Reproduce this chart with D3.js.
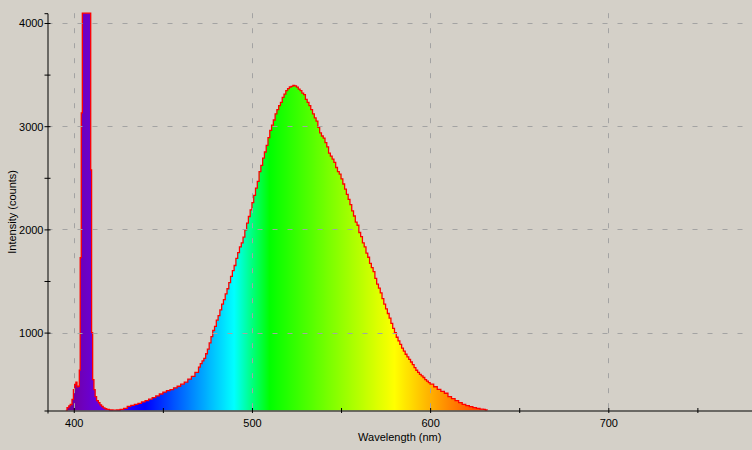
<!DOCTYPE html>
<html>
<head>
<meta charset="utf-8">
<script src="https://cdn.jsdelivr.net/npm/d3@7"></script>
<style>
  html, body { margin: 0; padding: 0; background: #d4d0c8; }
  svg { display: block; }
  text { font-family: "Liberation Sans", Arial, sans-serif; font-size: 11px; fill: #000; }
</style>
</head>
<body>
<svg id="chart" width="752" height="450"></svg>
<script>
// ---- data ----
const wavelengths = [
  395.5, 396.2, 397.2, 398.0, 399.0, 399.8, 400.5, 401.2, 401.8, 402.4, 403.1, 403.6, 404.2, 404.8,
  409.5, 410.0, 410.6, 411.3, 412.0, 412.8, 413.8, 414.7, 415.6, 416.5, 417.5, 418.5,
  420, 422, 424, 426, 428, 430, 432, 434, 436, 438, 440, 442, 444, 446, 448, 450,
  452, 454, 456, 458, 460, 462, 464, 466, 468, 470,
  471, 472, 473, 474, 475, 476, 477, 478, 479, 480,
  481, 482, 483, 484, 485, 486, 487, 488, 489, 490,
  491, 492, 493, 494, 495, 496, 497, 498, 499, 500,
  501, 502, 503, 504, 505, 506, 507, 508, 509, 510,
  511, 512, 513, 514, 515, 516, 517, 518, 519, 520,
  521, 522, 523, 524, 525, 526, 527, 528, 529, 530,
  531, 532, 533, 534, 535, 536, 537, 538, 539, 540,
  541, 542, 543, 544, 545, 546, 547, 548, 549, 550,
  551, 552, 553, 554, 555, 556, 557, 558, 559, 560,
  561, 562, 563, 564, 565, 566, 567, 568, 569, 570,
  571, 572, 573, 574, 575, 576, 577, 578, 579, 580,
  581, 582, 583, 584, 585, 586, 587, 588, 589, 590,
  591, 592, 593, 594, 595, 596, 597, 598, 599, 600,
  602, 604, 606, 608, 610, 612, 614, 616, 618, 620,
  622, 624, 626, 628, 630, 631, 632
];
const counts = [
  245, 272, 290, 303, 352, 448, 497, 520, 474, 480, 636, 1726, 3129, 4095,
  2577, 1000, 545, 448, 380, 340, 320, 300, 285, 270, 262, 255,
  250, 248, 250, 255, 265, 285, 295, 305, 315, 328, 340, 355, 370, 386, 405, 424,
  437, 448, 465, 480, 500, 520, 550, 575, 615, 665,
  700, 725, 750, 795, 840, 900, 960, 1020, 1060, 1120,
  1165, 1220, 1275, 1320, 1375, 1425, 1485, 1545, 1600, 1650,
  1720, 1775, 1830, 1870, 1925, 1995, 2060, 2125, 2190, 2260,
  2330, 2400, 2465, 2560, 2620, 2690, 2750, 2815, 2890, 2960,
  3010, 3060, 3120, 3160, 3200, 3230, 3280, 3310, 3345, 3365,
  3380, 3385, 3395, 3390, 3378, 3360, 3345, 3320, 3305, 3260,
  3230, 3200, 3160, 3120, 3080, 3050, 2990, 2935, 2905, 2885,
  2840, 2800, 2740, 2710, 2680, 2650, 2600, 2560, 2535, 2490,
  2440, 2390, 2340, 2290, 2240, 2180, 2130, 2070, 2040, 1970,
  1930, 1870, 1830, 1770, 1730, 1670, 1630, 1590, 1525, 1470,
  1430, 1385, 1330, 1275, 1230, 1185, 1140, 1090, 1040, 1000,
  955, 920, 885, 850, 820, 790, 765, 740, 715, 690,
  660, 635, 615, 595, 580, 565, 545, 530, 515, 500,
  475, 450, 430, 412, 380, 360, 340, 322, 305, 292,
  282, 272, 265, 258, 255, 250, 245
];
const xMajorTicks = [400, 500, 600, 700];
const xMinorTicks = [450, 550, 650, 750];
const yMajorTicks = [1000, 2000, 3000, 4000];
const yMinorTicks = [1500, 2500, 3500];
const xTitle = "Wavelength (nm)";
const yTitle = "Intensity (counts)";

// ---- layout ----
const W = 752, H = 450;
const pLeft = 47.5, pRight = 752, pTop = 13.2, pBottom = 410.5;

const x = d3.scaleLinear().domain([385.25, 780.65]).range([pLeft, pRight]);
const y = d3.scaleLinear().domain([245, 4095]).range([pBottom, pTop]);

const svg = d3.select("#chart");
svg.append("rect").attr("width", W).attr("height", H).attr("fill", "#d4d0c8");

// wavelength -> colour (Bruton-style)
function wlColor(l) {
  let r, g, b;
  if (l < 440) { r = (440 - l) / 60; g = 0; b = 1; }
  else if (l < 490) { r = 0; g = (l - 440) / 50; b = 1; }
  else if (l < 510) { r = 0; g = 1; b = (510 - l) / 20; }
  else if (l < 580) { r = (l - 510) / 70; g = 1; b = 0; }
  else if (l < 645) { r = 1; g = (645 - l) / 65; b = 0; }
  else { r = 1; g = 0; b = 0; }
  let f = 1;
  if (l < 420) f = 0.3 + 0.7 * (l - 380) / 40;
  else if (l > 700) f = 0.3 + 0.7 * (780 - l) / 80;
  const c = v => Math.round(255 * Math.max(0, Math.min(1, v * f)));
  return `rgb(${c(r)},${c(g)},${c(b)})`;
}

const defs = svg.append("defs");
const grad = defs.append("linearGradient")
  .attr("id", "spec").attr("gradientUnits", "userSpaceOnUse")
  .attr("x1", x(380)).attr("x2", x(780)).attr("y1", 0).attr("y2", 0);
for (let l = 380; l <= 780; l += 2) {
  grad.append("stop").attr("offset", (l - 380) / 400).attr("stop-color", wlColor(l));
}
defs.append("clipPath").attr("id", "clip")
  .append("rect").attr("x", pLeft).attr("y", 12).attr("width", pRight - pLeft).attr("height", pBottom - 12);

const data = wavelengths.map((w, i) => ({ w, c: counts[i] }));

const plot = svg.append("g").attr("clip-path", "url(#clip)");

const area = d3.area().x(d => x(d.w)).y0(y(245)).y1(d => y(d.c)).curve(d3.curveStepAfter);
plot.append("path").datum(data).attr("d", area).attr("fill", "url(#spec)");

// grid (dashed) on top of fill
const grid = svg.append("g").attr("stroke", "#a3a3a3").attr("stroke-width", 1)
  .attr("stroke-dasharray", "5,10");
grid.selectAll("line.v").data(xMajorTicks).join("line").attr("class", "v")
  .attr("x1", d => Math.round(x(d)) + 0.5).attr("x2", d => Math.round(x(d)) + 0.5)
  .attr("y1", pTop).attr("y2", pBottom);
grid.selectAll("line.h").data(yMajorTicks).join("line").attr("class", "h")
  .attr("y1", d => Math.round(y(d)) + 0.5).attr("y2", d => Math.round(y(d)) + 0.5)
  .attr("x1", pLeft).attr("x2", pRight);

const line = d3.line().x(d => x(d.w)).y(d => y(d.c)).curve(d3.curveStepAfter);
plot.append("path").datum(data).attr("d", line)
  .attr("fill", "none").attr("stroke", "#ff0000").attr("stroke-width", 1.3);

// axes
function styleAxis(g, crossTicks, isX) {
  g.select(".domain").attr("stroke", "#000").attr("stroke-width", 1);
  g.selectAll(".tick line").attr("stroke", "#000")
    .attr(isX ? "y1" : "x1", -crossTicks).attr(isX ? "y2" : "x2", crossTicks);
  g.selectAll(".tick text").style("font-family", '"Liberation Sans", Arial, sans-serif')
    .style("font-size", "11px").attr("fill", "#000");
}

const xAxis = svg.append("g").attr("transform", `translate(0,${pBottom})`)
  .call(d3.axisBottom(x).tickValues(xMajorTicks).tickSizeOuter(0).tickSize(3).tickPadding(5));
styleAxis(xAxis, 2.5, true);
xAxis.selectAll(".tick text").attr("y", 9).attr("dy", "0.71em");
const xAxisMinor = svg.append("g").attr("transform", `translate(0,${pBottom})`)
  .call(d3.axisBottom(x).tickValues(xMinorTicks).tickFormat("").tickSizeOuter(0).tickSize(3));
styleAxis(xAxisMinor, 2.5, true);
xAxisMinor.select(".domain").remove();

const yAxis = svg.append("g").attr("transform", `translate(${pLeft},0)`)
  .call(d3.axisLeft(y).tickValues(yMajorTicks).tickFormat(d3.format("d")).tickSizeOuter(0).tickSize(3));
styleAxis(yAxis, 3, false);
yAxis.selectAll(".tick text").attr("x", -4).attr("dy", "0.35em");
const yAxisMinor = svg.append("g").attr("transform", `translate(${pLeft},0)`)
  .call(d3.axisLeft(y).tickValues(yMinorTicks).tickFormat("").tickSizeOuter(0).tickSize(3));
styleAxis(yAxisMinor, 3, false);
yAxisMinor.select(".domain").remove();

// titles
svg.append("text").attr("x", (pLeft + pRight) / 2).attr("y", 441)
  .attr("text-anchor", "middle").text(xTitle);
svg.append("text").attr("transform", `translate(16,${(pTop + pBottom) / 2}) rotate(-90)`)
  .attr("text-anchor", "middle").text(yTitle);
</script>
</body>
</html>
